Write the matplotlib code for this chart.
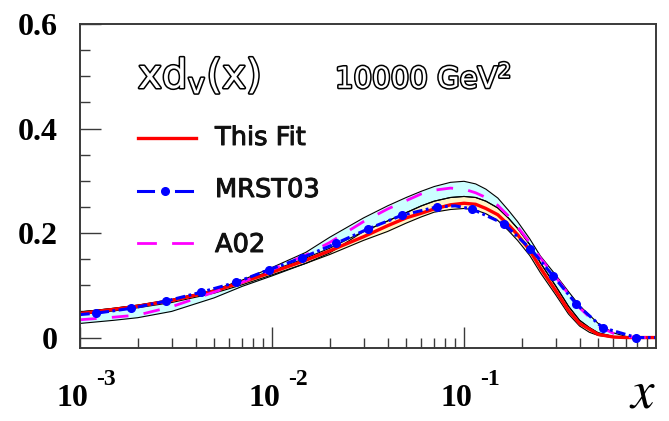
import matplotlib
matplotlib.use("Agg")
import matplotlib.pyplot as plt
import matplotlib.patheffects as pe
from matplotlib.lines import Line2D
from matplotlib.ticker import MultipleLocator, LogLocator, NullFormatter, FixedLocator
#======================================================================#
## data
x_grid = [0.001, 0.0015, 0.002, 0.003, 0.005, 0.007, 0.01, 0.015, 0.02, 0.03, 0.04, 0.05,
          0.06, 0.07, 0.085, 0.1, 0.115, 0.13, 0.15, 0.17, 0.19, 0.22, 0.25, 0.3, 0.35,
          0.4, 0.45, 0.5, 0.6, 0.7, 0.8, 0.9, 1.0]
this_fit = [0.046, 0.054, 0.060, 0.071, 0.089, 0.106, 0.125, 0.148, 0.166, 0.193, 0.214, 0.229,
            0.238, 0.246, 0.254, 0.257, 0.255, 0.247, 0.235, 0.216, 0.197, 0.167, 0.133, 0.090, 0.052,
            0.027, 0.016, 0.006, 0.001, 0.0, 0.0, 0.0, 0.0]
a02 = [0.034, 0.039, 0.043, 0.059, 0.087, 0.106, 0.130, 0.158, 0.182, 0.222, 0.246, 0.262,
       0.275, 0.282, 0.286, 0.284, 0.277, 0.268, 0.253, 0.233, 0.212, 0.182, 0.152, 0.116, 0.083,
       0.057, 0.039, 0.022, 0.008, 0.002, 0.0, 0.0, 0.0]
cyan_hi = [0.049, 0.056, 0.062, 0.072, 0.091, 0.110, 0.134, 0.163, 0.192, 0.229, 0.252, 0.268,
           0.280, 0.289, 0.297, 0.299, 0.294, 0.284, 0.267, 0.244, 0.222, 0.189, 0.156, 0.120, 0.088,
           0.061, 0.043, 0.027, 0.009, 0.002, 0.0, 0.0, 0.0]
cyan_lo = [0.027, 0.033, 0.038, 0.050, 0.076, 0.098, 0.118, 0.142, 0.162, 0.203, 0.223, 0.239,
           0.252, 0.261, 0.268, 0.270, 0.268, 0.261, 0.248, 0.229, 0.209, 0.178, 0.143, 0.099, 0.060,
           0.033, 0.019, 0.009, 0.002, 0.0, 0.0, 0.0, 0.0]
yel_hi = [0.049, 0.056, 0.062, 0.073, 0.091, 0.109, 0.128, 0.152, 0.171, 0.203, 0.223, 0.239,
          0.252, 0.261, 0.268, 0.270, 0.268, 0.261, 0.248, 0.229, 0.209, 0.178, 0.143, 0.099, 0.060,
          0.033, 0.019, 0.009, 0.002, 0.0, 0.0, 0.0, 0.0]
yel_lo = [0.044, 0.051, 0.057, 0.067, 0.085, 0.101, 0.120, 0.142, 0.159, 0.186, 0.203, 0.219,
          0.231, 0.240, 0.245, 0.247, 0.244, 0.237, 0.224, 0.205, 0.186, 0.157, 0.124, 0.082, 0.045,
          0.022, 0.010, 0.004, 0.0, 0.0, 0.0, 0.0, 0.0]

mrst_x = [0.001, 0.00121, 0.00185, 0.00282, 0.00425, 0.00649, 0.00968, 0.0144, 0.0215, 0.0317,
          0.0475, 0.0722, 0.09, 0.110, 0.161, 0.222, 0.292, 0.385, 0.527, 0.79, 1.0]
mrst03 = [0.044, 0.0465, 0.056, 0.0699, 0.0865, 0.1055, 0.130, 0.153, 0.180, 0.208,
          0.234, 0.250, 0.252, 0.246, 0.218, 0.170, 0.1175, 0.064, 0.019, 0.0, 0.0]
mrst_marks = [i for i in range(1, len(mrst_x) - 1) if i != 12]

y_ticks = [0, 0.2, 0.4, 0.6]
y_ticklabels = ["0", "0.2", "0.4", "0.6"]
x_decades = [1e-3, 1e-2, 1e-1]
x_exponents = ["-3", "-2", "-1"]
#======================================================================#
W, H = 669, 421
def fx(px): return px / W
def fy(py): return 1 - py / H

plt.rcParams['lines.scale_dashes'] = False
plt.rcParams['mathtext.fontset'] = 'stix'
serif = ['Liberation Serif', 'DejaVu Serif']
frame_col = '#3a3a3a'

def main():
    fig = plt.figure(figsize=(W / 100, H / 100), dpi=100)
    ax = fig.add_axes([fx(80), fy(348), (656 - 80) / W, (348 - 24) / H])

    # error bands
    ax.fill_between(x_grid, cyan_lo, cyan_hi, color='#ccffff', lw=0)
    ax.plot(x_grid, cyan_hi, color='k', lw=0.8)
    ax.plot(x_grid, cyan_lo, color='k', lw=0.8)
    ax.fill_between(x_grid, yel_lo, yel_hi, color='#fff4c4', lw=0)
    ax.plot(x_grid, yel_hi, color='k', lw=0.8)
    ax.plot(x_grid, yel_lo, color='k', lw=0.8)

    # curves
    ax.plot(x_grid, this_fit, color='#ff0000', lw=2.4, solid_joinstyle='round')
    ax.plot(x_grid, a02, color='#ff00ff', lw=2.0, dashes=(12, 11))
    ax.plot(mrst_x, mrst03, color='#0000ff', lw=2.2, dashes=(7, 2.5, 2, 2.5),
            marker='o', markersize=5.5, markevery=mrst_marks)

    ax.set_xscale('log')
    ax.set_xlim(1e-3, 1.0)
    ax.set_ylim(-0.02, 0.6)

    ax.yaxis.set_major_locator(FixedLocator(y_ticks))
    ax.set_yticklabels(y_ticklabels, fontfamily=serif, fontweight='bold', fontsize=23)
    ax.yaxis.set_minor_locator(MultipleLocator(0.05))
    ax.xaxis.set_major_locator(FixedLocator(x_decades))
    ax.xaxis.set_minor_locator(LogLocator(base=10, subs=range(2, 10)))
    ax.xaxis.set_major_formatter(NullFormatter())
    ax.xaxis.set_minor_formatter(NullFormatter())
    ax.tick_params(which='both', direction='in', top=False, right=False, color=frame_col, width=1)
    ax.tick_params(which='major', length=15)
    ax.tick_params(which='minor', length=7.5)
    ax.tick_params(axis='y', which='major', pad=16)
    for s in ax.spines.values():
        s.set_color(frame_col)
        s.set_linewidth(1.4)

    # x tick labels as 10 with a raised exponent
    for xv, ex in zip(x_decades, x_exponents):
        ax.annotate("10", xy=(xv, 0), xycoords=('data', 'axes fraction'),
                    xytext=(-8, -58), textcoords='offset pixels', ha='center', va='baseline',
                    fontfamily=serif, fontweight='bold', fontsize=23)
        ax.annotate(ex, xy=(xv, 0), xycoords=('data', 'axes fraction'),
                    xytext=(16, -37), textcoords='offset pixels', ha='left', va='baseline',
                    fontfamily=serif, fontweight='bold', fontsize=17)
    fig.text(fx(656), fy(408), r"$x$", ha='right', va='baseline', fontsize=38)

    # hollow labels
    hollow = [pe.withStroke(linewidth=2.2, foreground='black')]
    fig.text(fx(138), fy(88), r"xd$_\mathregular{v}$(x)", fontsize=29, color='white',
             fontfamily='DejaVu Sans', ha='left', va='baseline', path_effects=hollow)
    fig.text(fx(335), fy(88), r"10000 GeV$^\mathregular{2}$", fontsize=21, color='white',
             fontfamily='DejaVu Sans', ha='left', va='baseline', path_effects=hollow)

    # legend
    fig.add_artist(Line2D([fx(138), fx(196)], [fy(138), fy(138)], color='#ff0000', lw=2.4))
    fig.add_artist(Line2D([fx(138), fx(153)], [fy(191), fy(191)], color='#0000ff', lw=2.2))
    fig.add_artist(Line2D([fx(176), fx(192)], [fy(191), fy(191)], color='#0000ff', lw=2.2))
    fig.add_artist(Line2D([fx(165)], [fy(191)], color='#0000ff', marker='o', markersize=5.5))
    fig.add_artist(Line2D([fx(138), fx(155)], [fy(243), fy(243)], color='#ff00ff', lw=2.0))
    fig.add_artist(Line2D([fx(173), fx(192)], [fy(243), fy(243)], color='#ff00ff', lw=2.0))
    leg_style = dict(fontsize=18.5, color='#111111', fontfamily='DejaVu Sans',
                     ha='left', va='baseline',
                     path_effects=[pe.withStroke(linewidth=0.7, foreground='#111111')])
    fig.text(fx(215), fy(145), "This Fit", **leg_style)
    fig.text(fx(215), fy(197), "MRST03", **leg_style)
    fig.text(fx(215), fy(252), "A02", **leg_style)

    fig.savefig("out.png", dpi=100)

if __name__ == '__main__':
    main()
